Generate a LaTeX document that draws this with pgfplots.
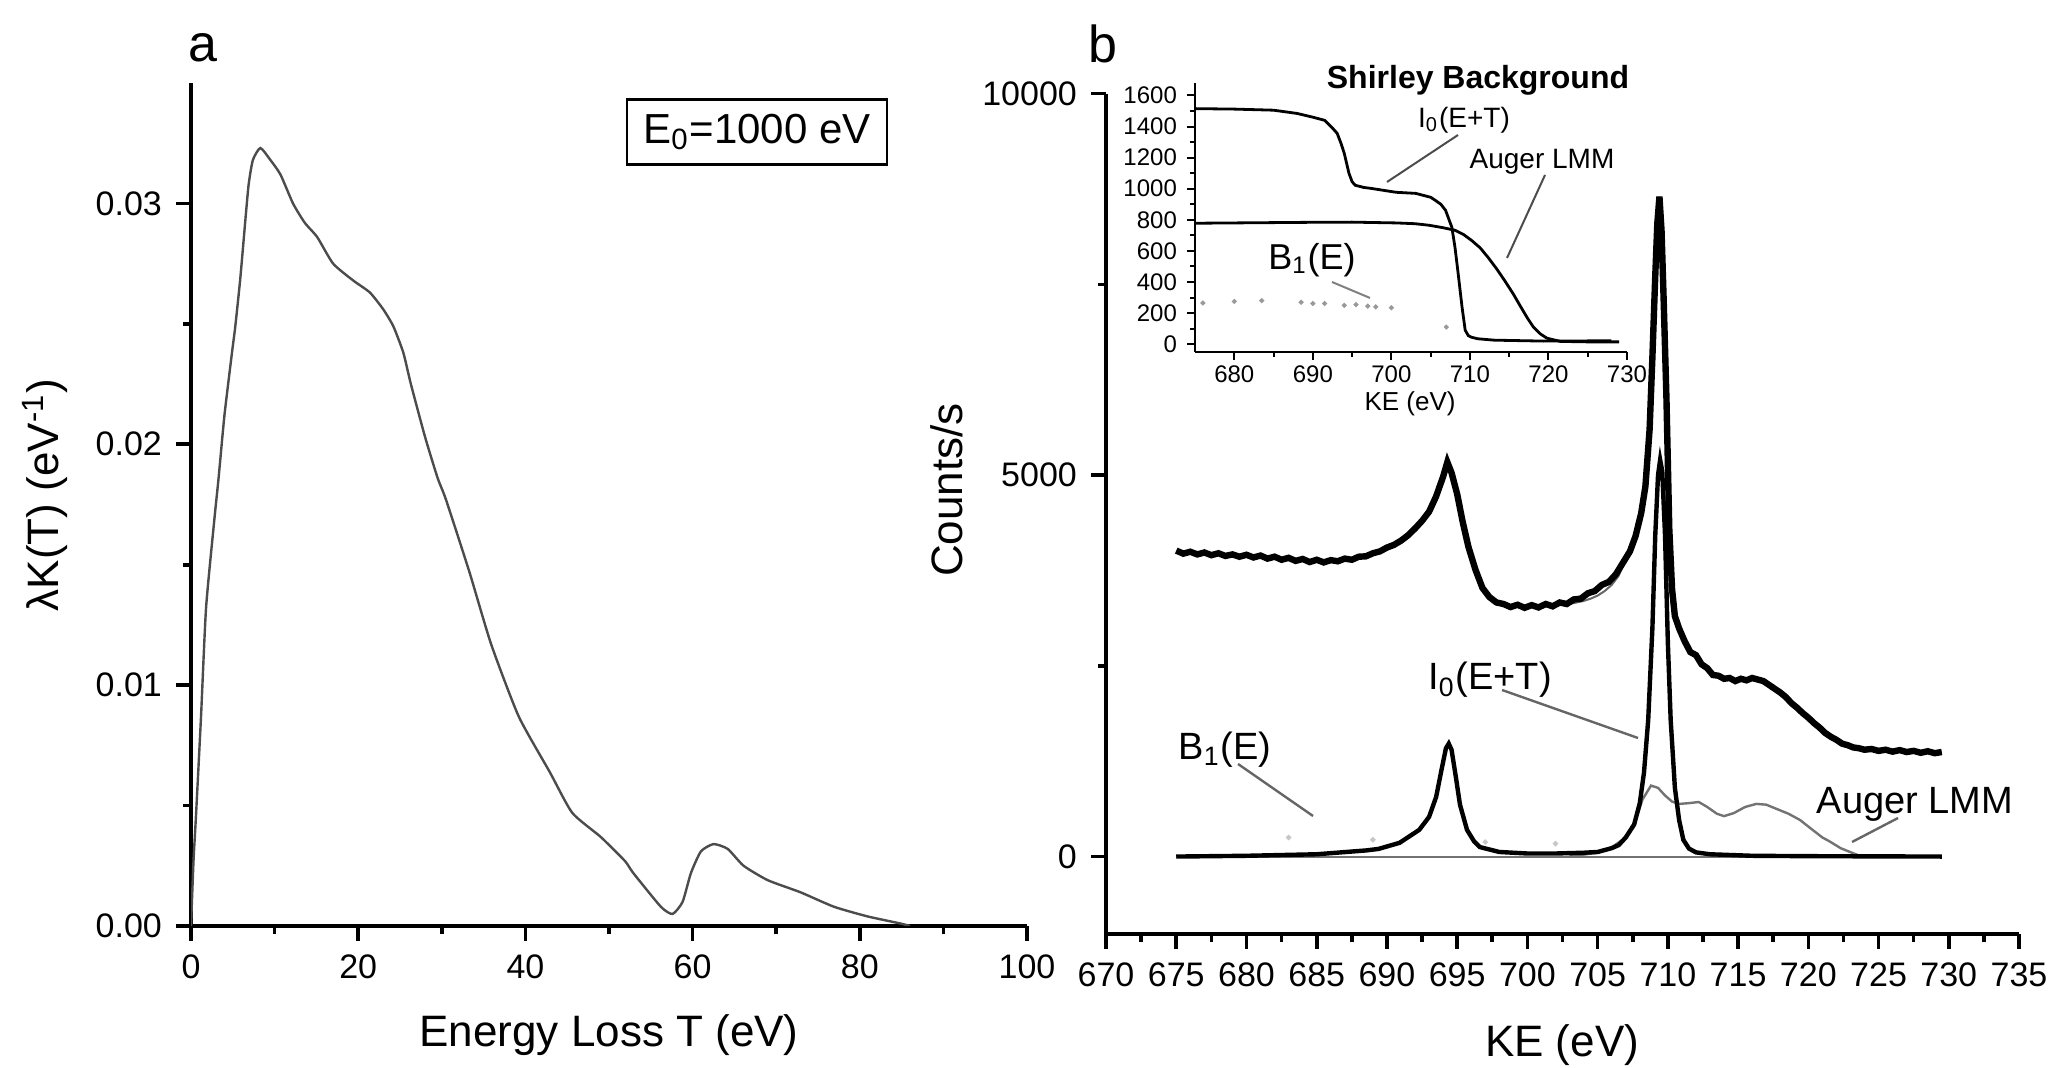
\documentclass[border=0pt]{standalone}
\usepackage{fontspec}
\setmainfont{Liberation Sans}
\usepackage{pgfplots}
\pgfplotsset{compat=1.18}
\newcommand\pp[2]{({#1*0.25pt},{(1068-#2)*0.25pt})}
\newcommand\fs[1]{\fontsize{#1}{#1}\selectfont}
\pgfplotsset{
  myax/.style={
    scale only axis, axis lines=left, axis line style={-, line width=1pt},
    tick align=outside, major tick length=3.75pt, minor tick length=2pt,
    every tick/.style={black, line width=0.9pt},
    /pgf/number format/assume math mode=true,
    tick label style={font=\fs{8.5}},
    /pgf/number format/1000 sep={},
    scaled ticks=false,
  }
}
\begin{document}
\begin{tikzpicture}
\path[use as bounding box] (0,0) rectangle (515.5pt,267pt);

% ---------------- panel a ----------------
\begin{axis}[myax, at={(47.75pt,35.5pt)}, anchor=south west,
  width=209pt, height=210.75pt,
  xmin=0, xmax=100, ymin=0, ymax=0.035,
  xtick={0,20,40,60,80,100}, minor x tick num=1,
  ytick={0,0.01,0.02,0.03}, minor y tick num=1,
  yticklabel style={/pgf/number format/fixed, /pgf/number format/fixed zerofill, /pgf/number format/precision=2}]
\addplot[black!70, line width=0.6pt, smooth, tension=0.35] coordinates {
(0,0)(0.3,0.0027)(0.6,0.0046)(1.2,0.0087)(1.8,0.0132)(2.8,0.0169)(3.3,0.0186)(4.0,0.0212)(4.9,0.0238)(5.3,0.0249)(5.9,0.0269)(6.5,0.0293)(6.9,0.0308)(7.4,0.0318)(8.3,0.0323)(9.5,0.0318)(10.7,0.0312)(12.2,0.0300)(13.6,0.0292)(15.1,0.0286)(17.0,0.0275)(19.4,0.0268)(21.4,0.0263)(23.0,0.0256)(24.2,0.0249)(25.4,0.0238)(26.3,0.0225)(28.0,0.0203)(29.5,0.0186)(30.5,0.0177)(33.3,0.0147)(35.9,0.0117)(39.2,0.0087)(42.9,0.0064)(45.6,0.0047)(49.0,0.0037)(51.9,0.0027)(52.9,0.0022)(56.2,0.0008)(57.6,0.0005)(58.8,0.0010)(59.8,0.0022)(61.0,0.0031)(62.5,0.0034)(64.2,0.0032)(66.1,0.0025)(69.0,0.0019)(72.9,0.0014)(76.9,0.0008)(80.9,0.0004)(84.9,0.0001)(86,0)};
\end{axis}

% ---------------- panel b ----------------
\begin{axis}[myax, at={(276.5pt,33.5pt)}, anchor=south west,
  width=228.25pt, height=210.1pt,
  xmin=670, xmax=735, ymin=-1015, ymax=10000,
  xtick={670,675,680,685,690,695,700,705,710,715,720,725,730,735}, minor x tick num=1,
  ytick={0,5000,10000}, minor y tick num=1]
% baseline
\addplot[black!55, line width=0.5pt] coordinates {(675,0)(729.5,0)};
% Auger LMM component
\addplot[black!55, line width=0.6pt] coordinates {
(703,0)(705,50)(706,120)(707,250)(707.6,420)(708.2,750)(708.8,930)(709.3,900)(709.8,800)(710.3,720)(710.8,690)(711.5,700)(712.2,715)(712.8,650)(713.5,560)(714.0,530)(714.7,570)(715.5,650)(716.3,690)(717,680)(717.8,620)(718.6,560)(719.4,480)(720.3,350)(721.0,250)(721.5,200)(722.3,110)(723.1,50)(723.8,0)};
% B1 dots
\addplot[only marks, mark=*, mark size=0.45pt, black!22] coordinates {(683,250)(689,220)(697,190)(702,170)};
% photoelectron peaks
\addplot[black, line width=1.1pt] coordinates {
(675,0)(680,10)(685,30)(688.5,80)(689.4,100)(690.9,180)(692.3,350)(693.0,520)(693.5,780)(693.9,1150)(694.2,1420)(694.4,1480)(694.6,1400)(694.9,1050)(695.2,680)(695.7,350)(696.2,200)(696.6,125)(698,60)(700,40)(702,40)(704,50)(705,60)(706,110)(706.5,150)(707,250)(707.6,420)(708,700)(708.3,1100)(708.6,1790)(708.9,3000)(709.1,4200)(709.3,5000)(709.45,5200)(709.6,5050)(709.8,4200)(710.0,2800)(710.2,1790)(710.5,900)(710.8,480)(711.1,220)(711.5,105)(712,55)(713,30)(716,10)(720,5)(729.5,0)};
% fit envelope (thin)
\addplot[black!60, line width=0.5pt] coordinates {
(675,3990)(680,3940)(685,3870)(687,3885)(689,3960)(690,4040)(691,4130)(692,4290)(693,4510)(693.5,4720)(694,4980)(694.3,5160)(694.6,5020)(695,4750)(695.4,4380)(695.8,4060)(696.3,3760)(696.8,3500)(697.3,3380)(698,3310)(699,3280)(700,3275)(701,3280)(702,3290)(703,3310)(704,3350)(704.5,3380)(705,3420)(705.5,3480)(706,3560)(706.5,3680)(707,3900)(707.5,4150)(708,4450)(708.4,4850)(708.7,5600)(708.9,6550)(709.1,7600)(709.25,8300)(709.4,8650)(709.55,8200)(709.7,7300)(709.9,6000)(710.1,4300)(710.3,3500)(710.5,3150)(710.8,2990)(711.5,2720)(712.5,2500)(713.5,2370)(715,2320)(716.5,2310)(717.5,2210)(718.5,2070)(719.5,1900)(720.5,1730)(721.5,1580)(722.5,1475)(723.5,1420)(725,1395)(727,1380)(729.5,1365)};
% measured spectrum (thick)
\addplot[black, line width=1.6pt] coordinates {
(675.0,4010)(675.5,3970)(676.0,3995)(676.5,3960)(677.0,3985)(677.5,3950)(678.0,3975)(678.5,3940)(679.0,3960)(679.5,3930)(680.0,3955)(680.5,3920)(681.0,3945)(681.5,3905)(682.0,3930)(682.5,3890)(683.0,3915)(683.5,3875)(684.0,3900)(684.5,3860)(685.0,3890)(685.5,3855)(686.0,3885)(686.5,3870)(687.0,3905)(687.5,3890)(688.0,3930)(688.5,3935)(689.0,3975)(689.5,4000)(690.0,4050)(690.5,4085)(691.0,4140)(691.5,4210)(692.0,4300)(692.5,4400)(693.0,4520)(693.5,4720)(694.0,4980)(694.3,5170)(694.6,5030)(695.0,4750)(695.4,4380)(695.8,4060)(696.3,3760)(696.8,3520)(697.3,3400)(697.8,3330)(698.3,3310)(698.8,3270)(699.3,3300)(699.8,3260)(700.3,3295)(700.8,3265)(701.3,3310)(701.8,3280)(702.3,3330)(702.8,3310)(703.3,3370)(703.8,3380)(704.3,3450)(704.8,3480)(705.3,3560)(705.8,3600)(706.3,3700)(706.8,3850)(707.3,4000)(707.7,4200)(708.1,4500)(708.4,4850)(708.7,5600)(708.9,6550)(709.1,7600)(709.25,8300)(709.4,8650)(709.55,8200)(709.7,7300)(709.9,6000)(710.1,4300)(710.3,3500)(710.5,3150)(710.8,2990)(711.2,2820)(711.6,2680)(712.0,2640)(712.4,2520)(712.8,2470)(713.2,2380)(713.6,2370)(714.0,2330)(714.4,2340)(714.8,2300)(715.2,2330)(715.6,2310)(716.0,2340)(716.4,2320)(716.8,2300)(717.2,2250)(717.6,2200)(718.0,2150)(718.4,2090)(718.8,2010)(719.2,1950)(719.6,1880)(720.0,1820)(720.4,1750)(720.8,1690)(721.2,1620)(721.6,1570)(722.0,1530)(722.4,1480)(722.8,1460)(723.2,1430)(723.6,1420)(724.0,1400)(724.5,1410)(725.0,1385)(725.5,1400)(726.0,1375)(726.5,1395)(727.0,1370)(727.5,1385)(728.0,1360)(728.5,1380)(729.0,1355)(729.5,1370)};
\end{axis}

% ---------------- inset ----------------
\begin{axis}[myax, at={(298.75pt,179pt)}, anchor=south west,
  width=108pt, height=67.25pt,
  xmin=675, xmax=730, ymin=-50, ymax=1680,
  xtick={680,690,700,710,720,730}, minor x tick num=1,
  ytick={0,200,400,600,800,1000,1200,1400,1600}, minor y tick num=1,
  tick label style={font=\fs{6}},
  major tick length=2pt, minor tick length=1.2pt,
  axis line style={-, line width=0.7pt},
  every tick/.style={black, line width=0.5pt},
  xticklabel style={yshift=2pt}, yticklabel style={xshift=1pt}]
\addplot[black, line width=0.7pt] coordinates {
(675,1515)(680,1512)(685,1505)(688,1484)(690,1460)(691.5,1440)(692.5,1390)(693.1,1356)(693.6,1290)(694.0,1228)(694.6,1099)(695.0,1045)(695.4,1022)(696.5,1008)(697.3,1003)(700.6,977)(703.1,970)(705,945)(705.6,925)(706.3,900)(706.9,861)(707.7,752)(708.1,623)(708.5,456)(709.0,238)(709.4,90)(709.8,55)(710.2,45)(711,35)(713.1,26)(719.4,20)(728,22)};
\addplot[black, line width=0.7pt] coordinates {
(675,778)(680,780)(685,782)(690,784)(695,785)(700.6,780)(703,775)(704.8,765)(706.5,750)(708.1,733)(709.2,705)(710.2,668)(711.3,620)(712.3,559)(713.4,485)(714.4,411)(715.5,325)(716.5,238)(717.3,170)(718.1,109)(719.0,65)(719.8,39)(721.5,18)(725,15)(729,15)};
\addplot[only marks, mark=*, mark size=0.4pt, black!40] coordinates {
(676,265)(680,275)(683.5,280)(688.5,270)(690,262)(691.5,262)(694,250)(695.5,255)(697,245)(698,240)(700,235)(707,110)};
\end{axis}

% ---------------- text ----------------
\node[anchor=base, font=\fs{13}] at \pp{203}{62} {a};
\node[anchor=base, font=\fs{13}] at \pp{1103}{63} {b};
\node[draw, line width=0.6pt, minimum width=65pt, minimum height=16.25pt, inner sep=0pt, font=\fs{10.5}] at \pp{757}{132} {E\textsubscript{0}=1000 eV};
\node[rotate=90, font=\fs{11}] at \pp{45}{495} {λK(T) (eV\textsuperscript{-1})};
\node[font=\fs{11}] at \pp{609}{1035} {Energy Loss T (eV)};
\node[rotate=90, font=\fs{11}] at \pp{947}{490} {Counts/s};
\node[font=\fs{11}] at \pp{1562}{1045} {KE (eV)};
\node[font=\fs{6.5}] at \pp{1410}{404} {KE (eV)};
\node[font=\bfseries\fs{8}] at \pp{1478}{80} {Shirley Background};
\node[font=\fs{7}] at \pp{1464}{120} {I\textsubscript{0}(E+T)};
\node[font=\fs{7}] at \pp{1542}{162} {Auger LMM};
\node[font=\fs{9}] at \pp{1312}{260} {B\textsubscript{1}(E)};
\node[font=\fs{9.5}] at \pp{1490}{680} {I\textsubscript{0}(E+T)};
\node[font=\fs{9.5}] at \pp{1225}{750} {B\textsubscript{1}(E)};
\node[font=\fs{9.5}] at \pp{1915}{804} {Auger LMM};
% leader lines
\draw[black!70, line width=0.5pt] \pp{1458}{135} -- \pp{1387}{182};
\draw[black!70, line width=0.5pt] \pp{1545}{175} -- \pp{1507}{258};
\draw[black!50, line width=0.5pt] \pp{1332}{282} -- \pp{1370}{298};
\draw[black!60, line width=0.6pt] \pp{1502}{690} -- \pp{1638}{738};
\draw[black!60, line width=0.6pt] \pp{1238}{764} -- \pp{1313}{816};
\draw[black!60, line width=0.6pt] \pp{1898}{818} -- \pp{1852}{842};
\end{tikzpicture}
\end{document}
